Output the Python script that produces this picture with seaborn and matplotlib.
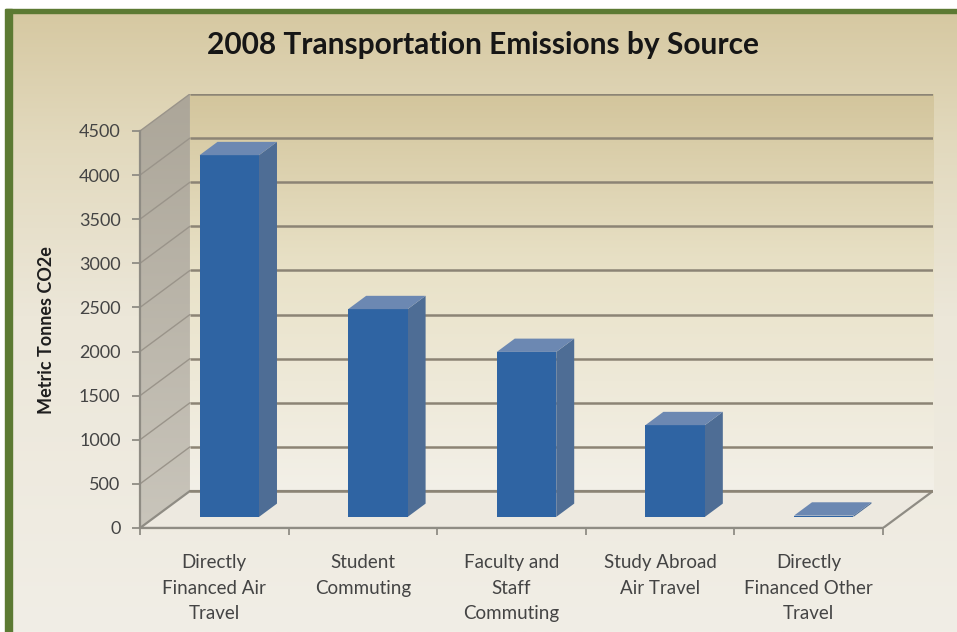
import numpy as np
import matplotlib
matplotlib.use("Agg")
import matplotlib.pyplot as plt
import seaborn as sns
from matplotlib.patches import Polygon, Rectangle
from matplotlib.colors import LinearSegmentedColormap

# ---------------- data ----------------
categories = [
    "Directly\nFinanced Air\nTravel",
    "Student\nCommuting",
    "Faculty and\nStaff\nCommuting",
    "Study Abroad\nAir Travel",
    "Directly\nFinanced Other\nTravel",
]
emissions = [4100, 2355, 1870, 1040, 15]
y_ticks = [0, 500, 1000, 1500, 2000, 2500, 3000, 3500, 4000, 4500]
title = "2008 Transportation Emissions by Source"
y_label = "Metric Tonnes CO2e"

# ---------------- style ----------------
FRONT = "#2f64a3"
SIDE = "#4e6d95"
TOP = "#6c88b2"
GRID = "#8c8475"
AXIS = "#8f8c84"
TXT = "#444444"
DX, DY = 0.336, 419.0      # full depth offset in data units
D0, D1 = 0.30, 0.66        # bar front / back depth fraction
YMAX = 4500

sns.set_theme(style="white")
plt.rcParams["font.family"] = ["Lato", "DejaVu Sans"]

W, H = 957, 632
fig = plt.figure(figsize=(W / 100, H / 100), dpi=100)

# background gradient
bg = fig.add_axes([0, 0, 1, 1], zorder=-10)
bg.set_axis_off()
grad = np.linspace(0, 1, 256).reshape(-1, 1)
cmap_bg = LinearSegmentedColormap.from_list(
    "bg", [(0, "#d5c79f"), (0.22, "#e2d9bd"), (0.5, "#ece7d9"), (1, "#f1eee6")])
bg.imshow(grad, aspect="auto", cmap=cmap_bg, extent=[0, 1, 0, 1], origin="upper")
bg.set_xlim(0, 1)
bg.set_ylim(0, 1)
# frame: white margin + green border
bg.add_patch(Rectangle((0, 1 - 9 / H), 1, 9 / H, color="white", transform=bg.transAxes))
bg.add_patch(Rectangle((0, 1 - 13 / H), 1, 4 / H, color="#5c7a33", transform=bg.transAxes))
bg.add_patch(Rectangle((0, 0), 5 / W, 1, color="white", transform=bg.transAxes))
bg.add_patch(Rectangle((5 / W, 0), 7 / W, 1 - 9 / H, color="#5c7a33", transform=bg.transAxes))

# main axes
ax = fig.add_axes([140 / W, (H - 528) / H, (933 - 140) / W, (528 - 94) / H])
ax.set_facecolor("none")

sns.barplot(x=categories, y=emissions, ax=ax, color=FRONT, width=0.4,
            saturation=1, zorder=6)
bars = list(ax.patches)

n = len(categories)
xl, xr = -0.5, n - 0.5

# back wall gradient
cmap_wall = LinearSegmentedColormap.from_list(
    "wall", [(0, "#d3c59c"), (0.45, "#e9e2c8"), (1, "#f3f0e8")])
ax.imshow(grad, aspect="auto", cmap=cmap_wall,
          extent=[xl + DX, xr + DX, DY, YMAX + DY], origin="upper", zorder=0)

# left wall
left_wall = Polygon([(xl, 0), (xl + DX, DY), (xl + DX, YMAX + DY), (xl, YMAX)],
                    closed=True, facecolor="none", edgecolor="none", zorder=1)
ax.add_patch(left_wall)
cmap_lw = LinearSegmentedColormap.from_list("lw", ["#aca699", "#c9c5bb"])
im = ax.imshow(grad, aspect="auto", cmap=cmap_lw,
               extent=[xl, xl + DX, 0, YMAX + DY], origin="upper", zorder=1)
im.set_clip_path(left_wall)

# floor
floor = Polygon([(xl, 0), (xr, 0), (xr + DX, DY), (xl + DX, DY)], closed=True,
                facecolor="#ede9e0", edgecolor=AXIS, lw=1.6, zorder=2)
ax.add_patch(floor)

# gridlines (back wall + left wall)
for v in y_ticks[1:]:
    ax.plot([xl + DX, xr + DX], [v + DY, v + DY], color=GRID, lw=1.8, zorder=3,
            solid_capstyle="butt")
    ax.plot([xl, xl + DX], [v, v + DY], color="#9a948a", lw=1.0, zorder=3)
ax.plot([xl + DX, xr + DX], [DY, DY], color=GRID, lw=1.8, zorder=3)

# 3D bars
for p in bars:
    x0, w, h = p.get_x(), p.get_width(), p.get_height()
    p.set_x(x0 + D0 * DX)
    p.set_y(D0 * DY)
    p.set_edgecolor("none")
    side = [(x0 + w + D0 * DX, D0 * DY), (x0 + w + D1 * DX, D1 * DY),
            (x0 + w + D1 * DX, h + D1 * DY), (x0 + w + D0 * DX, h + D0 * DY)]
    top = [(x0 + D0 * DX, h + D0 * DY), (x0 + w + D0 * DX, h + D0 * DY),
           (x0 + w + D1 * DX, h + D1 * DY), (x0 + D1 * DX, h + D1 * DY)]
    ax.add_patch(Polygon(side, closed=True, facecolor=SIDE, edgecolor="none", zorder=5))
    ax.add_patch(Polygon(top, closed=True, facecolor=TOP, edgecolor="none", zorder=7))

ax.set_xlim(xl, xr + DX)
ax.set_ylim(0, YMAX + DY)

# axes / ticks
for s in ["top", "right"]:
    ax.spines[s].set_visible(False)
ax.spines["left"].set_bounds(0, YMAX)
ax.spines["bottom"].set_bounds(xl, xr)
for s in ["left", "bottom"]:
    ax.spines[s].set_color(AXIS)
    ax.spines[s].set_linewidth(1.6)
    ax.spines[s].set_zorder(8)

ax.set_yticks(y_ticks)
ax.set_yticklabels([str(v) for v in y_ticks])
ax.tick_params(axis="y", left=True, length=6, width=1.3, color=AXIS,
               labelsize=13, labelcolor=TXT, pad=8)
ax.set_xticks(range(n))
ax.set_xticklabels(categories)
ax.set_xticks(np.arange(xl, xr + 0.01, 1), minor=True)
ax.tick_params(axis="x", which="major", bottom=False, length=0,
               labelsize=13.5, labelcolor=TXT, pad=19)
ax.tick_params(axis="x", which="minor", bottom=True, length=5, width=1.3, color=AXIS)
for lbl in ax.get_xticklabels():
    lbl.set_linespacing(1.6)
    lbl.set_va("top")

ax.set_xlabel("")
ax.set_ylabel("")
fig.text(47 / W, (H - 330) / H, y_label, rotation=90, ha="center", va="center",
         fontsize=13, fontweight="bold", color="#1e1e1e")
fig.text(483 / W, (H - 45) / H, title, ha="center", va="center",
         fontsize=21.5, fontweight="bold", color="#161616")

fig.savefig("out.png", dpi=100)
